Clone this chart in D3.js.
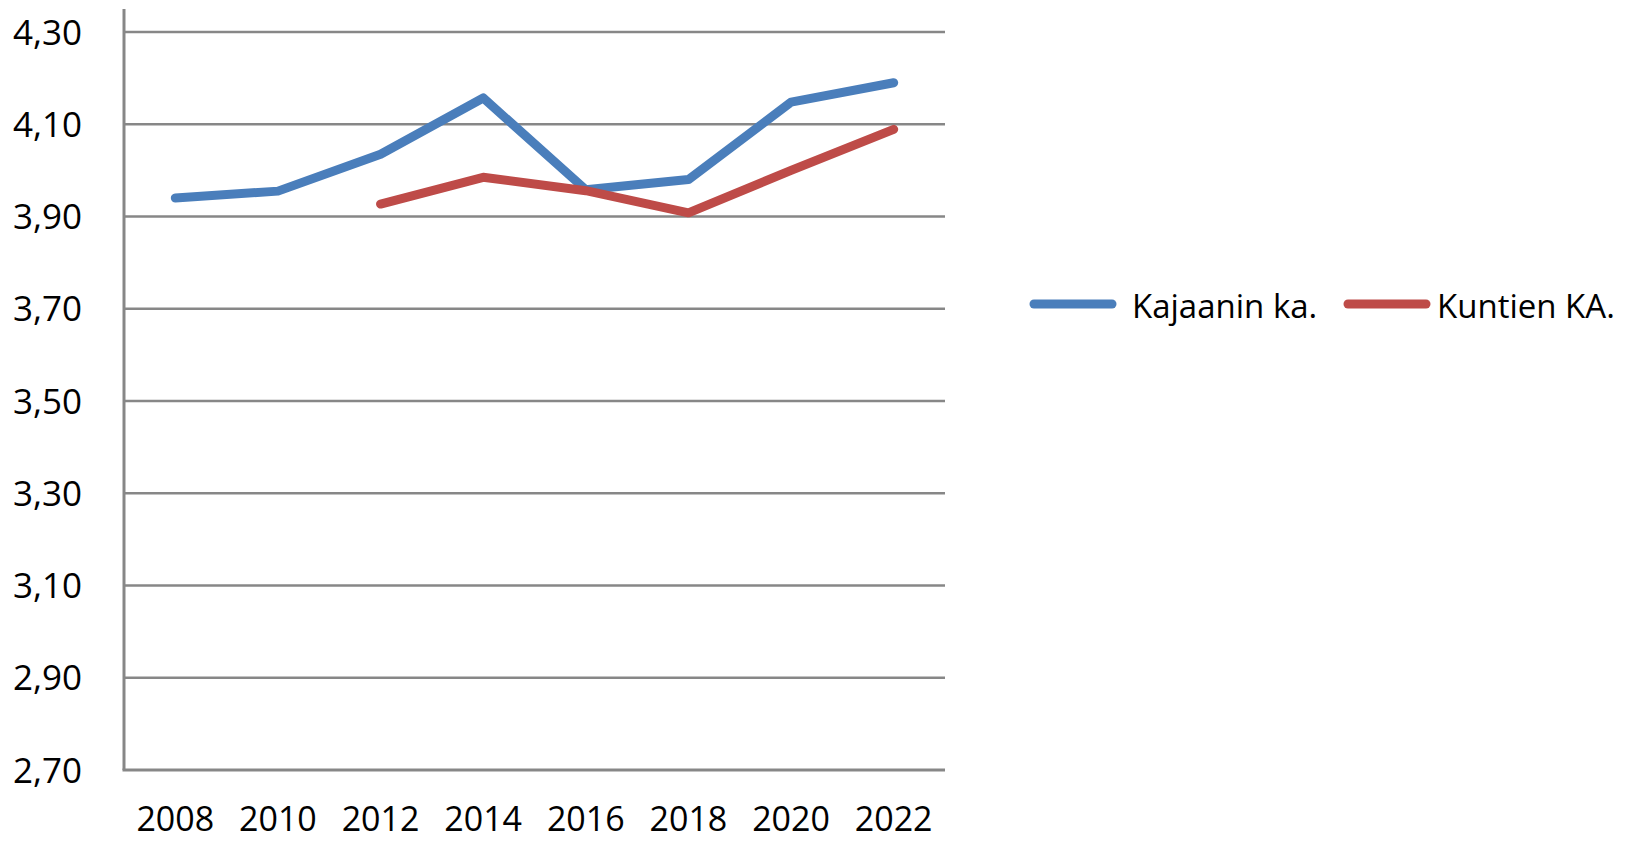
<!DOCTYPE html>
<html>
<head>
<meta charset="utf-8">
<script src="https://cdn.jsdelivr.net/npm/d3@7"></script>
<style>
  body { margin: 0; background: #fff; }
  text { font-family: "Open Sans", sans-serif; fill: #000; }
</style>
</head>
<body>
<div id="chart"></div>
<script>
// chart data
var years = ["2008", "2010", "2012", "2014", "2016", "2018", "2020", "2022"];
var kajaani = [3.94, 3.955, 4.035, 4.157, 3.958, 3.98, 4.148, 4.19];
var kuntien = [null, null, 3.927, 3.985, 3.956, 3.908, 4.0, 4.089];
var seriesNames = ["Kajaanin ka.", "Kuntien KA."];
var seriesColors = ["#4a7ebb", "#be4b48"];
var yTicks = [2.7, 2.9, 3.1, 3.3, 3.5, 3.7, 3.9, 4.1, 4.3];

var width = 1635, height = 842;
var plotLeft = 124, plotRight = 945, plotTop = 32, plotBottom = 770;

var svg = d3.select('#chart')
	.append('svg')
	.attr('width', width)
	.attr('height', height);

var x = d3.scaleBand()
	.domain(years)
	.range([plotLeft, plotRight]);

var y = d3.scaleLinear()
	.domain([2.7, 4.3])
	.range([plotBottom, plotTop]);

var fmt = function(v) { return d3.format('.2f')(v).replace('.', ','); };

// horizontal gridlines
svg.append('g')
	.selectAll('line')
	.data(yTicks.slice(1))
	.join('line')
	.attr('x1', plotLeft)
	.attr('x2', plotRight)
	.attr('y1', function(d) { return y(d); })
	.attr('y2', function(d) { return y(d); })
	.attr('stroke', '#878787')
	.attr('stroke-width', 2.5);

// y axis labels
svg.append('g')
	.selectAll('text')
	.data(yTicks)
	.join('text')
	.attr('x', 82)
	.attr('y', function(d) { return y(d); })
	.attr('dy', '0.36em')
	.attr('text-anchor', 'end')
	.style('font-size', '35px')
	.text(fmt);

// axis lines
svg.append('line')
	.attr('x1', plotLeft).attr('x2', plotLeft)
	.attr('y1', 9).attr('y2', plotBottom)
	.attr('stroke', '#878787')
	.attr('stroke-width', 3);
svg.append('line')
	.attr('x1', plotLeft - 1.5).attr('x2', plotRight)
	.attr('y1', plotBottom).attr('y2', plotBottom)
	.attr('stroke', '#878787')
	.attr('stroke-width', 3);

// x axis labels
svg.append('g')
	.selectAll('text')
	.data(years)
	.join('text')
	.attr('x', function(d) { return x(d) + x.bandwidth() / 2; })
	.attr('y', 831)
	.attr('text-anchor', 'middle')
	.style('font-size', '34px')
	.text(function(d) { return d; });

// the two lines
var line = d3.line()
	.defined(function(d) { return d != null; })
	.x(function(d, i) { return x(years[i]) + x.bandwidth() / 2; })
	.y(function(d) { return y(d); });

[kajaani, kuntien].forEach(function(vals, i) {
	svg.append('path')
		.datum(vals)
		.attr('d', line)
		.attr('fill', 'none')
		.attr('stroke', seriesColors[i])
		.attr('stroke-width', 9)
		.attr('stroke-linecap', 'round')
		.attr('stroke-linejoin', 'round');
});

// legend
var legendX = [1030, 1344];
seriesNames.forEach(function(name, i) {
	svg.append('line')
		.attr('x1', legendX[i] + 4)
		.attr('x2', legendX[i] + 82)
		.attr('y1', 304)
		.attr('y2', 304)
		.attr('stroke', seriesColors[i])
		.attr('stroke-width', 9)
		.attr('stroke-linecap', 'round');
	svg.append('text')
		.attr('x', legendX[i] + (i == 0 ? 102 : 93))
		.attr('y', 318)
		.style('font-size', '33px')
		.text(name);
});
</script>
</body>
</html>
